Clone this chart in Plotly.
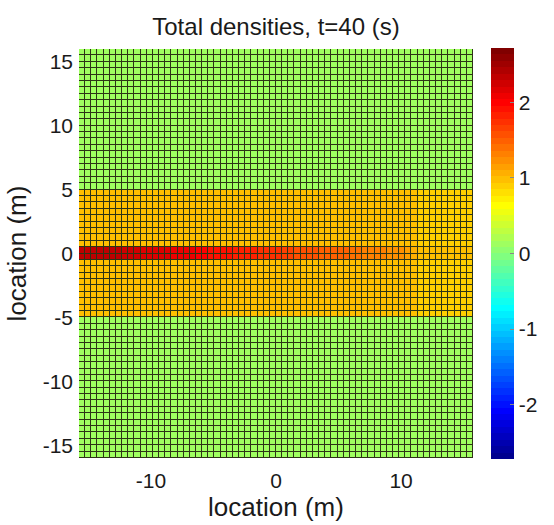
import numpy as np
import plotly.graph_objects as go

# ---------------- data ----------------
title_text = "Total densities, t=40 (s)"
x_label = "location (m)"
y_label = "location (m)"

n_cols = 64
n_rows = 64
x_extent = 15.75          # metres, half width of the domain in x
y_extent = 16.0           # metres, half height of the domain in y

background_level = 0.1    # green area (|y| > 5)
band_level_left = 0.98    # orange band, |y| < 5, x < 11.25
band_level_right = 0.88   # orange band, |y| < 5, x > 11.25
band_half_width = 5.0
stripe_half_width = 0.5
right_zone_start = 11.25

# stripe values along x (two central rows), one per column
stripe_values = [2.35, 2.35, 2.35, 2.3, 2.3, 2.3, 2.3, 2.25, 2.25, 2.25,
                 2.2, 2.2, 2.2, 2.15, 2.15, 2.1, 2.1, 2.05, 2.05, 2.0,
                 2.0, 1.95, 1.95, 1.9, 1.9, 1.85, 1.85, 1.8, 1.8, 1.75,
                 1.75, 1.7, 1.7, 1.65, 1.65, 1.6,
                 1.6, 1.55, 1.55, 1.5, 1.5, 1.5, 1.45, 1.45, 1.4, 1.4,
                 1.35, 1.35, 1.3, 1.3, 1.25, 1.25, 1.2, 1.15, 1.1,
                 0.98, 0.98, 0.98, 0.98, 0.98, 0.98, 0.98, 0.98, 0.98]

axis_tickvals = [-15, -10, -5, 0, 5, 10, 15]
axis_ticktext = ["-15", "-10", "-5", "0", "5", "10", "15"]
x_tickvals = [-10, 0, 10]
x_ticktext = ["-10", "0", "10"]
cbar_tickvals = [-2, -1, 0, 1, 2]
cbar_ticktext = ["-2", "-1", "0", "1", "2"]
c_min, c_max = -2.72, 2.72

# ---------------- grid ----------------
dx = 2 * x_extent / n_cols
dy = 2 * y_extent / n_rows
x_centers = -x_extent + dx / 2 + dx * np.arange(n_cols)
y_centers = -y_extent + dy / 2 + dy * np.arange(n_rows)

z = np.full((n_rows, n_cols), background_level)
band_rows = np.abs(y_centers) < band_half_width
right_cols = x_centers > right_zone_start
for i in range(n_rows):
    if band_rows[i]:
        z[i, :] = np.where(right_cols, band_level_right, band_level_left)
    if abs(y_centers[i]) < stripe_half_width:
        z[i, :] = np.array(stripe_values)

# ---------------- MATLAB jet(64) colormap (stepped) ----------------
def jet_colors(m=64):
    n = int(np.ceil(m / 4))
    u = np.concatenate([np.arange(1, n + 1) / n, np.ones(n - 1), np.arange(n, 0, -1) / n])
    g = int(np.ceil(n / 2)) - (1 if m % 4 == 1 else 0) + np.arange(1, len(u) + 1)
    r = g + n
    b = g - n
    J = np.zeros((m, 3))
    for idx, val in zip(r, u):
        if 1 <= idx <= m:
            J[idx - 1, 0] = val
    for idx, val in zip(g, u):
        if 1 <= idx <= m:
            J[idx - 1, 1] = val
    for idx, val in zip(b, u):
        if 1 <= idx <= m:
            J[idx - 1, 2] = val
    return J

J = jet_colors(64)
colorscale = []
for k in range(64):
    c = "rgb(%d,%d,%d)" % tuple((J[k] * 255).round().astype(int))
    colorscale.append([k / 64, c])
    colorscale.append([(k + 1) / 64, c])

font_family = "Liberation Sans, Arial, sans-serif"
text_color = "#1a1a1a"

fig = go.Figure()
fig.add_trace(go.Heatmap(
    x=x_centers, y=y_centers, z=z,
    zmin=c_min, zmax=c_max,
    colorscale=colorscale,
    xgap=1, ygap=1,
    colorbar=dict(
        x=1.0465, xanchor="left", xpad=0,
        y=0.5, yanchor="middle", ypad=0,
        len=1.005, lenmode="fraction",
        thickness=23, thicknessmode="pixels",
        outlinewidth=0,
        tickvals=cbar_tickvals, ticktext=cbar_ticktext,
        ticks="inside", ticklen=4, tickcolor="#888",
        tickfont=dict(family=font_family, size=21, color=text_color),
    ),
    hoverinfo="skip",
))

fig.update_layout(
    width=554, height=525,
    margin=dict(l=79, r=66, t=49, b=67),
    paper_bgcolor="white",
    plot_bgcolor="rgb(45,52,22)",
    title=dict(text=title_text, x=0.5, xref="paper", y=1 - 27 / 525,
               yref="container", yanchor="middle", xanchor="center",
               font=dict(family=font_family, size=24, color=text_color)),
    font=dict(family=font_family, color=text_color),
)
fig.update_xaxes(
    range=[-x_extent, x_extent], showgrid=False, zeroline=False,
    tickvals=x_tickvals, ticktext=x_ticktext, ticks="",
    tickfont=dict(size=21), ticklabelstandoff=8,
    title=dict(text=x_label, font=dict(size=26), standoff=6),
    automargin=False,
)
fig.update_yaxes(
    range=[-y_extent, y_extent], showgrid=False, zeroline=False,
    tickvals=axis_tickvals, ticktext=axis_ticktext, ticks="",
    tickfont=dict(size=21), ticklabelstandoff=5,
    title=dict(text=y_label, font=dict(size=26), standoff=8),
    automargin=False,
)

fig.write_html("out.html")
